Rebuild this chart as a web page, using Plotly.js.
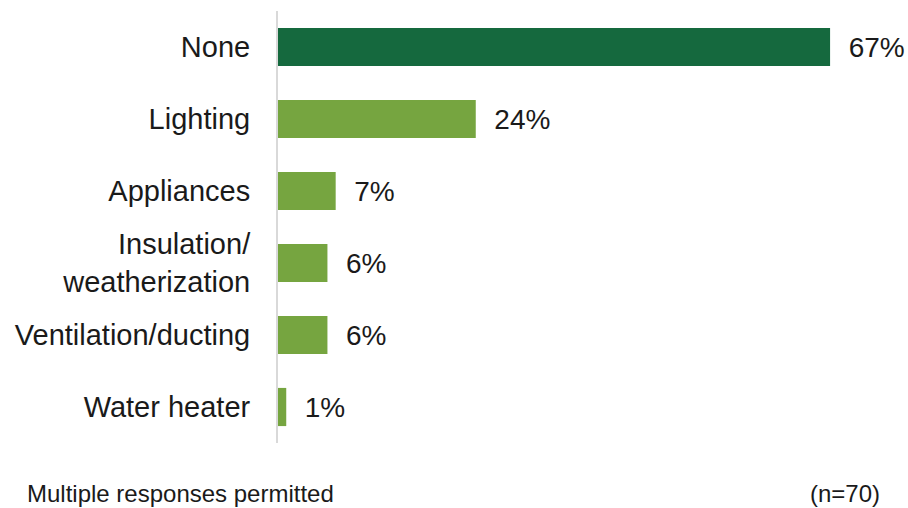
<!DOCTYPE html>
<html>
<head>
<meta charset="utf-8">
<script src="https://cdn.plot.ly/plotly-3.0.1.min.js"></script>
<style>html,body{margin:0;padding:0;background:#fff;}#chart{width:908px;height:508px;}</style>
</head>
<body>
<div id="chart"></div>
<script>
const categories = ["None", "Lighting", "Appliances", "Insulation/<br>weatherization", "Ventilation/ducting", "Water heater"];
const values = [67, 24, 7, 6, 6, 1];
const barColors = ["#15693e", "#76a540", "#76a540", "#76a540", "#76a540", "#76a540"];
const footnoteLeft = "Multiple responses permitted";
const footnoteRight = "(n=70)";

const font = "'Liberation Sans', Arial, sans-serif";

const trace = {
  type: "bar",
  orientation: "h",
  y: categories,
  x: values,
  marker: { color: barColors, line: { width: 0 } },
  text: values.map(v => "\u00a0\u00a0" + v + "%"),
  textposition: "outside",
  textfont: { family: font, size: 28, color: "#1a1a1a" },
  cliponaxis: false,
  hoverinfo: "none"
};

const layout = {
  width: 908,
  height: 508,
  margin: { l: 278, r: 12, t: 11, b: 65 },
  paper_bgcolor: "#ffffff",
  plot_bgcolor: "#ffffff",
  showlegend: false,
  bargap: 0.47,
  xaxis: {
    range: [0, 75],
    showgrid: false,
    zeroline: false,
    showline: false,
    showticklabels: false,
    ticks: ""
  },
  yaxis: {
    autorange: "reversed",
    type: "category",
    showgrid: false,
    zeroline: false,
    showline: true,
    linecolor: "#d9d9d9",
    linewidth: 2,
    ticks: "outside",
    ticklen: 20,
    tickcolor: "rgba(0,0,0,0)",
    tickfont: { family: font, size: 29, color: "#1a1a1a" }
  },
  annotations: [
    {
      text: footnoteLeft, xref: "paper", yref: "paper",
      x: -0.409, y: -0.118, xanchor: "left", yanchor: "middle",
      showarrow: false, font: { family: font, size: 24, color: "#1a1a1a" }
    },
    {
      text: footnoteRight, xref: "paper", yref: "paper",
      x: 0.977, y: -0.118, xanchor: "right", yanchor: "middle",
      showarrow: false, font: { family: font, size: 24, color: "#1a1a1a" }
    }
  ]
};

Plotly.newPlot("chart", [trace], layout, { staticPlot: true, displayModeBar: false });
</script>
</body>
</html>
